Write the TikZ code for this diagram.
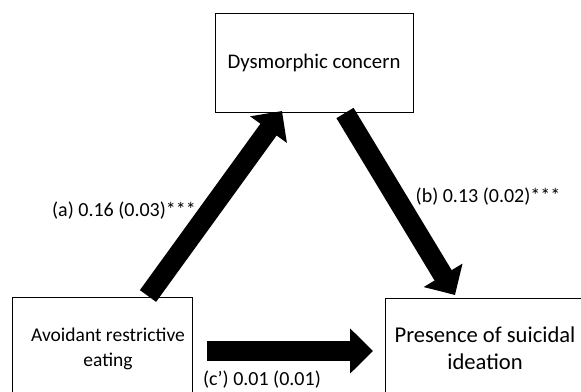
\documentclass[tikz,border=0pt]{standalone}
\usepackage{fontspec}
\setmainfont{Carlito}
\usetikzlibrary{arrows.meta}
\tikzset{
  box/.style={draw=black, line width=0.8pt, fill=white, inner sep=0pt},
  txt/.style={align=center, inner sep=0pt},
  fatarrow/.style={draw=black, line width=20pt, -{Triangle[length=23pt,width=44pt]}},
  lbl/.style={font=\fontsize{20}{22}\selectfont, inner sep=0pt}
}
\begin{document}
\begin{tikzpicture}[x=1pt,y=-1pt]
\useasboundingbox (0,0) rectangle (581,391);
\clip (0,0) rectangle (581,391);
\fill[white] (0,0) rectangle (581,391);
\node[box, minimum width=198pt, minimum height=99pt] (dc) at (314,62.5) {};
\node[txt, font=\fontsize{20.8}{24}\selectfont] (dct) at (dc) {Dysmorphic concern};
\node[box, minimum width=180pt, minimum height=103pt] (are) at (102,348.5) {};
\node[txt, font=\fontsize{19.5}{25}\selectfont] (aret) at (108,349) {Avoidant restrictive\\eating};
\node[box, minimum width=200pt, minimum height=102pt] (psi) at (485,349) {};
\node[txt, font=\fontsize{22.6}{27}\selectfont] (psit) at (485,348) {Presence of suicidal\\ideation};
\coordinate (aS) at (148,296);
\coordinate (aE) at (282,111);
\coordinate (bS) at (345,113);
\coordinate (bE) at (455,295);
\coordinate (cS) at (207,351);
\coordinate (cE) at (373,351);
\draw[fatarrow] (aS) -- (aE);
\draw[fatarrow] (bS) -- (bE);
\draw[fatarrow] (cS) -- (cE);
\node[lbl] (la) at (124,211) {(a) 0.16 (0.03)***};
\node[lbl] (lb) at (488,197) {(b) 0.13 (0.02)***};
\node[lbl] (lc) at (262,380) {(c’) 0.01 (0.01)};
\end{tikzpicture}
\end{document}
